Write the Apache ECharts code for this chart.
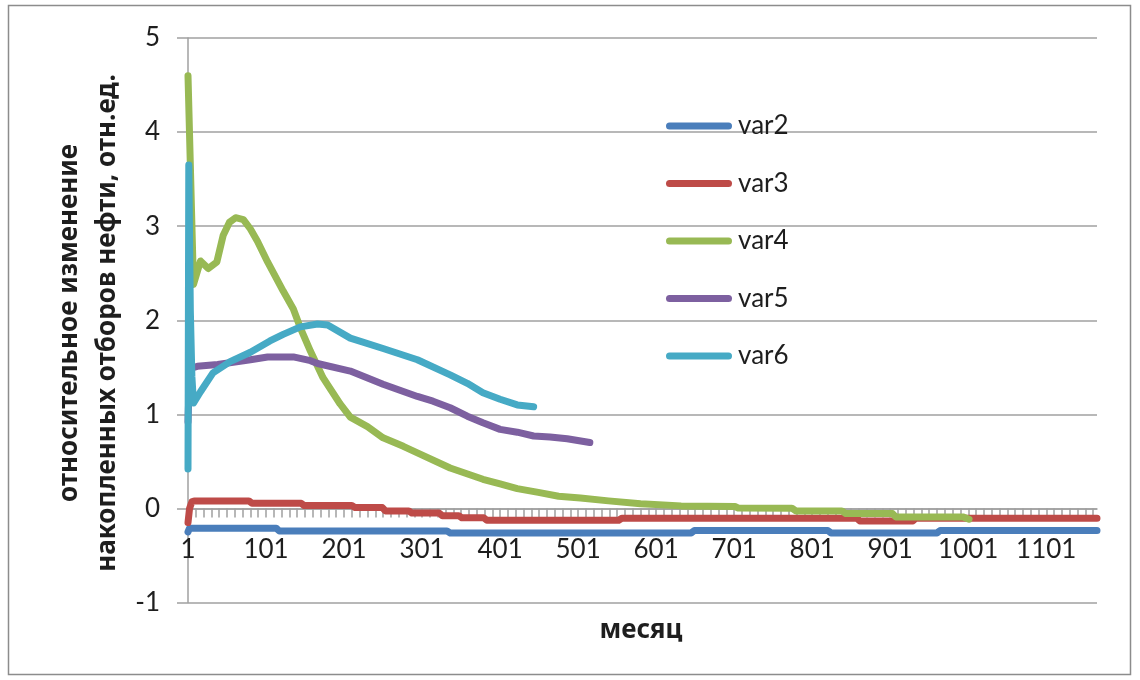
<!DOCTYPE html>
<html>
<head>
<meta charset="utf-8">
<script src="https://cdn.jsdelivr.net/npm/echarts@6/dist/echarts.min.js"></script>
<style>
  html, body { margin: 0; padding: 0; background: #ffffff; }
  #chart { width: 1140px; height: 680px; }
</style>
</head>
<body>
<div id="chart"></div>
<script>
// Months on the horizontal axis (1 .. 1166), labelled every 100 months
const monthCount = 1166;
const months = Array.from({ length: monthCount }, (_, i) => String(i + 1));

const seriesNames = ['var2', 'var3', 'var4', 'var5', 'var6'];

// Relative change of cumulative oil production, read at selected months
const var2Months = [1, 3, 114, 118, 333, 337, 646, 650, 821, 825, 961, 965, 1166];
const var2Values = [-0.25, -0.21, -0.21, -0.24, -0.24, -0.26, -0.26, -0.235, -0.235, -0.26, -0.26, -0.235, -0.235];

const var3Months = [1, 3, 6, 9, 79, 83, 146, 150, 211, 215, 250, 254, 284, 288, 323, 327, 348, 352, 380, 384, 553, 557, 858, 862, 930, 934, 1166];
const var3Values = [-0.15, 0.0, 0.07, 0.08, 0.08, 0.055, 0.055, 0.03, 0.03, 0.01, 0.01, -0.027, -0.027, -0.05, -0.05, -0.077, -0.077, -0.1, -0.1, -0.125, -0.125, -0.104, -0.104, -0.133, -0.133, -0.104, -0.104];

const var4Months = [1, 8, 17, 27, 38, 46, 54, 62, 72, 81, 90, 103, 123, 136, 145, 158, 174, 196, 209, 231, 251, 277, 295, 337, 379, 401, 423, 450, 476, 504, 540, 581, 633, 702, 706, 775, 780, 839, 844, 904, 908, 994, 1002];
const var4Values = [4.6, 2.38, 2.63, 2.55, 2.62, 2.9, 3.04, 3.09, 3.07, 2.97, 2.84, 2.62, 2.31, 2.12, 1.92, 1.67, 1.39, 1.11, 0.97, 0.87, 0.75, 0.66, 0.59, 0.43, 0.31, 0.26, 0.21, 0.17, 0.13, 0.11, 0.08, 0.05, 0.027, 0.02, 0.005, 0.002, -0.027, -0.027, -0.055, -0.055, -0.09, -0.09, -0.115];

const var5Months = [1, 2, 5, 13, 39, 81, 103, 136, 158, 167, 209, 251, 295, 315, 337, 359, 379, 401, 423, 444, 465, 487, 516];
const var5Values = [0.92, 1.2, 1.49, 1.51, 1.53, 1.58, 1.61, 1.61, 1.57, 1.54, 1.46, 1.32, 1.19, 1.14, 1.07, 0.98, 0.91, 0.84, 0.81, 0.77, 0.76, 0.74, 0.7];

const var6Months = [1, 2, 4, 6, 8, 10, 17, 33, 55, 81, 106, 123, 145, 167, 180, 209, 251, 295, 337, 359, 379, 401, 423, 444];
const var6Values = [0.42, 3.65, 2.1, 1.4, 1.12, 1.13, 1.24, 1.44, 1.56, 1.66, 1.78, 1.85, 1.93, 1.96, 1.95, 1.81, 1.70, 1.58, 1.42, 1.33, 1.23, 1.16, 1.10, 1.08];

const yMin = -1, yMax = 5, yStep = 1;

const seriesMonths = [var2Months, var3Months, var4Months, var5Months, var6Months];
const seriesValues = [var2Values, var3Values, var4Values, var5Values, var6Values];
const seriesColors = ['#4a7ebb', '#be4b48', '#98b954', '#7d60a0', '#46aac5'];

const labelFont = 'Lato, "Open Sans", sans-serif';
const titleFont = '"Noto Sans", "Open Sans", sans-serif';
const gridGray = '#a0a0a0';
const textColor = '#1e1e1e';

const chart = echarts.init(document.getElementById('chart'), null, { renderer: 'canvas' });

const series = seriesNames.map((name, k) => ({
  name: name,
  type: 'line',
  data: seriesMonths[k].map((m, i) => [String(m), seriesValues[k][i]]),
  showSymbol: false,
  symbol: 'none',
  smooth: false,
  lineStyle: { width: 7, color: seriesColors[k], cap: 'round', join: 'round' },
  itemStyle: { color: seriesColors[k] },
  emphasis: { disabled: true }
}));

chart.setOption({
  animation: false,
  backgroundColor: '#ffffff',
  grid: { left: 188, top: 38, right: 43, bottom: 77.5, containLabel: false },
  legend: {
    orient: 'vertical',
    left: 661,
    top: 108,
    itemWidth: 66,
    itemHeight: 7,
    itemGap: 31.5,
    icon: 'path://M3.5,0 L62.5,0 A3.5,3.5 0 0 1 62.5,7 L3.5,7 A3.5,3.5 0 0 1 3.5,0 Z',
    data: seriesNames,
    textStyle: { fontFamily: labelFont, fontSize: 26, lineHeight: 26, color: textColor, padding: [0, 0, 0, 1] },
    selectedMode: false
  },
  xAxis: {
    type: 'category',
    data: months,
    boundaryGap: false,
    axisLine: { show: true, onZero: true, lineStyle: { color: gridGray, width: 1.5 } },
    axisTick: { show: true, interval: 9, length: 9, lineStyle: { color: gridGray, width: 1.5 } },
    // labels sit just under the zero line
    axisLabel: { interval: 99, margin: -65.5, fontFamily: labelFont, fontSize: 26, color: textColor },
    splitLine: { show: false }
  },
  yAxis: {
    type: 'value',
    min: yMin,
    max: yMax,
    interval: yStep,
    axisLine: { show: true, lineStyle: { color: gridGray, width: 1.5 } },
    axisTick: { show: true, length: 11, lineStyle: { color: gridGray, width: 1.5 } },
    axisLabel: { margin: 28, fontFamily: labelFont, fontSize: 26, color: textColor },
    splitLine: { show: true, lineStyle: { color: gridGray, width: 1.5 } }
  },
  graphic: [
    {
      type: 'rect',
      shape: { x: 8.5, y: 5.5, width: 1122, height: 669 },
      style: { fill: 'none', stroke: '#8c8c8c', lineWidth: 1.5 },
      silent: true, z: -1
    },
    {
      type: 'text',
      x: 89, y: 323,
      rotation: Math.PI / 2,
      style: {
        text: 'относительное изменение\nнакопленных отборов нефти, отн.ед.',
        font: 'bold 26px ' + titleFont,
        fill: textColor,
        align: 'center',
        verticalAlign: 'middle',
        lineHeight: 38
      },
      silent: true
    },
    {
      type: 'text',
      x: 641, y: 631,
      style: {
        text: 'месяц',
        font: 'bold 26px ' + titleFont,
        fill: textColor,
        align: 'center',
        verticalAlign: 'middle'
      },
      silent: true
    }
  ],
  series: series
});
</script>
</body>
</html>
